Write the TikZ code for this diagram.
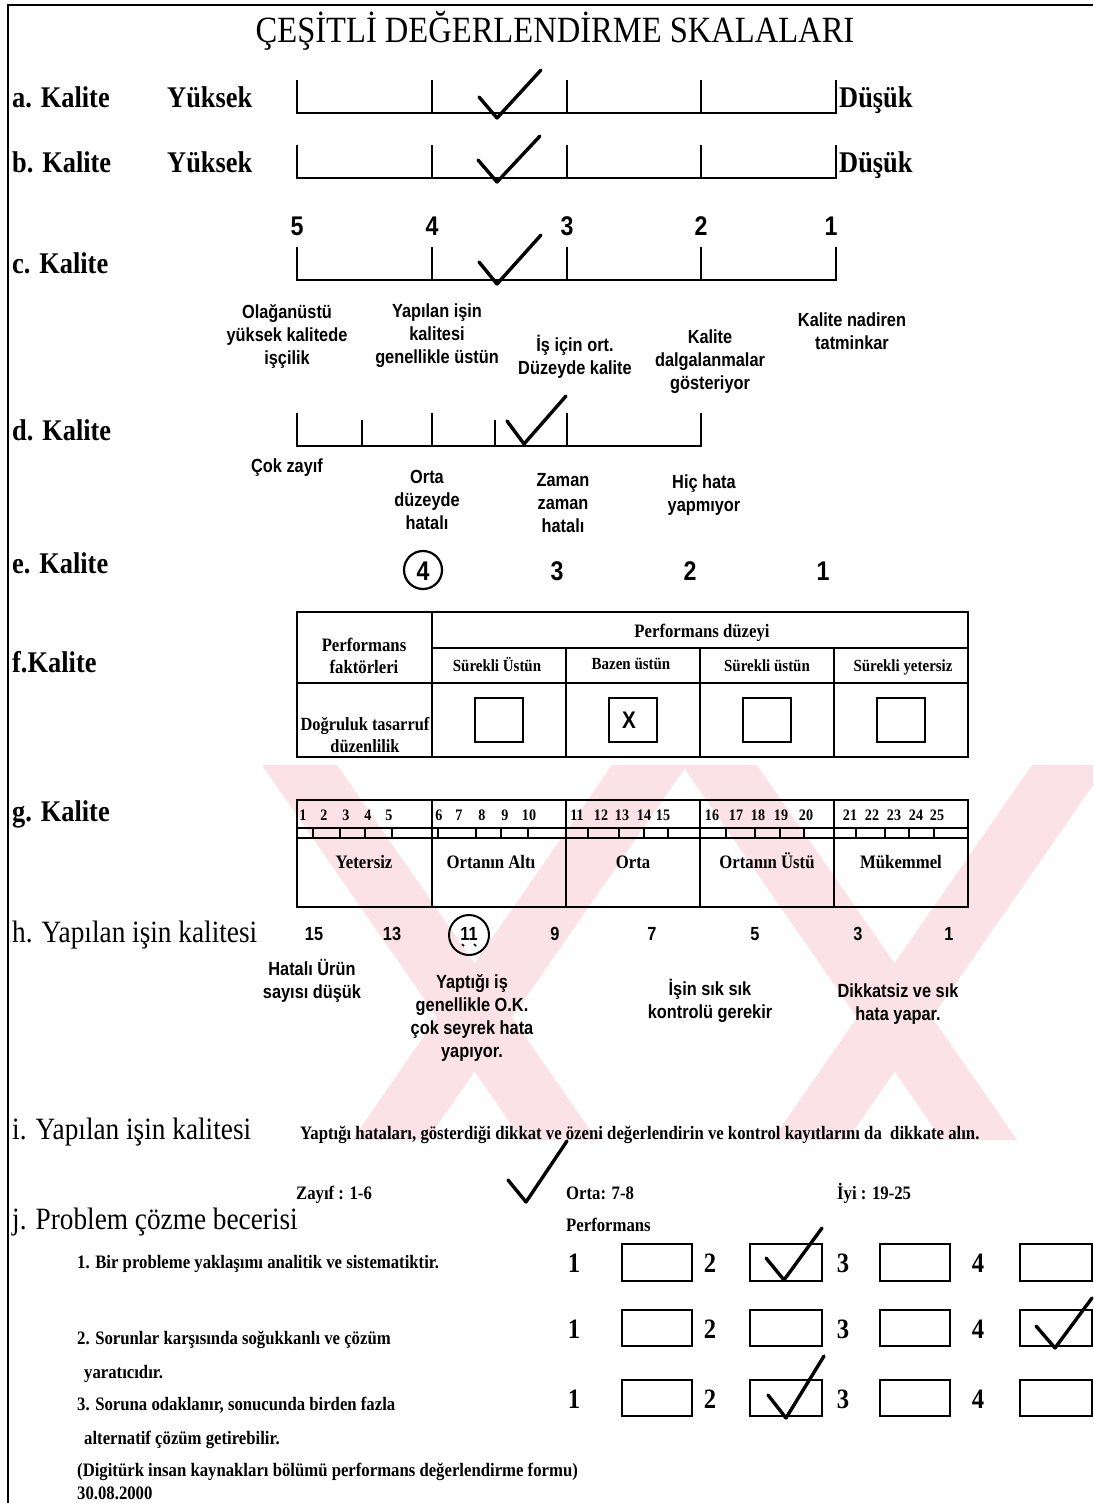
\documentclass[tikz,border=0pt]{standalone}
\usepackage{fontspec}
\setmainfont{Liberation Serif}[FakeStretch=0.88]
\newfontfamily\tsans{Liberation Sans}[FakeStretch=0.86]
\definecolor{wmpink}{RGB}{251,226,231}
\tikzset{
  lbl/.style={font=\bfseries\fontsize{30}{34}\selectfont, anchor=base west, inner sep=0pt},
  biglbl/.style={font=\fontsize{31}{34}\selectfont, anchor=base west, inner sep=0pt},
  ttl/.style={font=\fontsize{37}{42}\selectfont, anchor=base, inner sep=0pt},
  slab/.style={font=\tsans\bfseries\fontsize{19}{23}\selectfont, align=center, inner sep=0pt},
  bnum/.style={font=\tsans\bfseries\fontsize{27}{30}\selectfont, anchor=base, inner sep=0pt},
  hnum/.style={font=\tsans\bfseries\fontsize{19}{20}\selectfont, anchor=base, inner sep=0pt},
  tsm/.style={font=\bfseries\fontsize{17}{18}\selectfont, anchor=base, inner sep=0pt},
  tmid/.style={font=\bfseries\fontsize{19}{20}\selectfont, anchor=base, inner sep=0pt},
  glab/.style={font=\bfseries\fontsize{19}{20}\selectfont, anchor=base, inner sep=0pt},
  item/.style={font=\bfseries\fontsize{19}{22}\selectfont, anchor=base west, inner sep=0pt},
  jnum/.style={font=\bfseries\fontsize{28}{30}\selectfont, anchor=base, inner sep=0pt},
  chk/.style={line width=3.4pt, line cap=round, line join=round},
  scl/.style={line width=2.6pt},
  tk/.style={line width=2.2pt},
  tbl/.style={line width=2.4pt},
  box/.style={line width=2.2pt},
  frame/.style={line width=2.2pt},
  wm/.style={fill=wmpink},
}
\begin{document}
\begin{tikzpicture}[x=1pt,y=-1pt]
\useasboundingbox (0,0) rectangle (1093,1503);

% faint background mark
\begin{scope}
  \clip (0,765) rectangle (1093,1140);
  \fill[wm] (262,765) -- (337,765) -- (597,1140) -- (522,1140) -- cycle;
  \fill[wm] (612,765) -- (687,765) -- (427,1140) -- (352,1140) -- cycle;
  \fill[wm] (682,765) -- (757,765) -- (1017,1140) -- (942,1140) -- cycle;
  \fill[wm] (1032,765) -- (1107,765) -- (847,1140) -- (772,1140) -- cycle;
\end{scope}

% page frame
\draw[frame] (1093,5) -- (8,5) -- (8,1503);

% title
\node[ttl] (title) at (555,43) {ÇEŞİTLİ DEĞERLENDİRME SKALALARI};

% a and b
\node[lbl] (la) at (12,108) {a. Kalite};
\node[lbl] (ya) at (167,108) {Yüksek};
\node[lbl] (da) at (839,108) {Düşük};
\draw[scl] (297,80) -- (297,113) -- (836,113) -- (836,80);
\foreach \x in {432,567,701} \draw[tk] (\x,80) -- (\x,113);
\draw[chk] (479,97) -- (497,118) -- (541,70);

\node[lbl] (lb) at (12,173) {b. Kalite};
\node[lbl] (yb) at (167,173) {Yüksek};
\node[lbl] (db) at (839,173) {Düşük};
\draw[scl] (297,145) -- (297,178) -- (836,178) -- (836,145);
\foreach \x in {432,567,701} \draw[tk] (\x,145) -- (\x,178);
\draw[chk] (478,160) -- (497,182) -- (540,136);

% c
\foreach \n/\x in {5/297,4/432,3/567,2/701,1/831}
  \node[bnum] (cn\n) at (\x,236) {\n};
\node[lbl] (lc) at (12,274) {c. Kalite};
\draw[scl] (297,247) -- (297,280) -- (836,280) -- (836,247);
\foreach \x in {432,567,701} \draw[tk] (\x,247) -- (\x,280);
\draw[chk] (479,262) -- (497,284) -- (541,235);
\node[slab] (c5) at (287,336) {Olağanüstü\\yüksek kalitede\\işçilik};
\node[slab] (c4) at (437,336) {Yapılan işin\\kalitesi\\genellikle üstün};
\node[slab] (c3) at (575,357) {İş için ort.\\Düzeyde kalite};
\node[slab] (c2) at (710,362) {Kalite\\dalgalanmalar\\gösteriyor};
\node[slab] (c1) at (852,331) {Kalite nadiren\\tatminkar};

% d
\node[lbl] (ld) at (12,440) {d. Kalite};
\draw[scl] (297,413) -- (297,446) -- (701,446) -- (701,413);
\foreach \x in {432,567} \draw[tk] (\x,413) -- (\x,446);
\foreach \x in {362,495} \draw[tk] (\x,420) -- (\x,446);
\draw[chk] (507,421) -- (524,444) -- (566,396);
\node[slab] (d1) at (287,468) {Çok zayıf};
\node[slab] (d2) at (427,500) {Orta\\düzeyde\\hatalı};
\node[slab] (d3) at (563,503) {Zaman\\zaman\\hatalı};
\node[slab] (d4) at (704,495) {Hiç hata\\yapmıyor};

% e
\node[lbl] (le) at (12,573) {e. Kalite};
\node[bnum] (e4) at (423,580) {4};
\draw[line width=2.2pt] (423,570) circle (19);
\node[bnum] (e3) at (557,580) {3};
\node[bnum] (e2) at (690,580) {2};
\node[bnum] (e1) at (823,580) {1};

% f
\node[lbl] (lf) at (12,672) {f.Kalite};
\draw[tbl] (297,612) rectangle (968,757);
\draw[tbl] (432,612) -- (432,757);
\foreach \x in {566,700,834} \draw[tbl] (\x,648) -- (\x,757);
\draw[tbl] (432,648) -- (968,648);
\draw[tbl] (297,683) -- (968,683);
\node[tmid] (fh) at (702,637) {Performans düzeyi};
\node[tmid] (ff1) at (364,651) {Performans};
\node[tmid] (ff2) at (364,673) {faktörleri};
\node[tsm] (fs1) at (497,671) {Sürekli Üstün};
\node[tsm] (fs2) at (631,669) {Bazen üstün};
\node[tsm] (fs3) at (767,671) {Sürekli üstün};
\node[tsm] (fs4) at (903,671) {Sürekli yetersiz};
\node[tmid, font=\bfseries\fontsize{18.6}{20}\selectfont] (fd1) at (365,730) {Doğruluk tasarruf};
\node[tmid, font=\bfseries\fontsize{18.6}{20}\selectfont] (fd2) at (365,752) {düzenlilik};
\foreach \c in {499,633,767,901} \draw[box] (\c-24,698) rectangle (\c+24,742);
\node[font=\tsans\bfseries\fontsize{24}{26}\selectfont, inner sep=0pt] (fx) at (629,720) {X};

% g
\node[lbl] (lg) at (12,821) {g. Kalite};
\draw[tbl] (297,800) rectangle (968,907);
\foreach \x in {432,566,700,834} \draw[tbl] (\x,800) -- (\x,907);
\draw[line width=1.8pt] (297,828) -- (968,828);
\draw[line width=1.8pt] (297,838) -- (968,838);
\foreach \x in {313,340,365,392,438,476,501,528,588,619,644,668,726,755,780,804,856,885,909,934}
  \draw[line width=1.6pt] (\x,828) -- (\x,838);
\foreach \n/\x in {1/303,2/324,3/346,4/368,5/389,6/439,7/459,8/482,9/505,10/529,
                   11/577,12/601,13/622,14/644,15/663,16/712,17/736,18/758,19/781,20/806,
                   21/850,22/872,23/894,24/916,25/937}
  \node[tsm, font=\bfseries\fontsize{16}{18}\selectfont] (gn\n) at (\x,820) {\n};
\node[glab] (gl1) at (364,868) {Yetersiz};
\node[glab] (gl2) at (491,868) {Ortanın Altı};
\node[glab] (gl3) at (633,868) {Orta};
\node[glab] (gl4) at (767,868) {Ortanın Üstü};
\node[glab] (gl5) at (901,868) {Mükemmel};

% h
\node[biglbl] (lh) at (12,942) {h. Yapılan işin kalitesi};
\foreach \n/\x in {15/314,13/392,11/469,9/555,7/652,5/755,3/858,1/949}
  \node[hnum] (hn\n) at (\x,940) {\n};
\draw[line width=2pt] (469,935) circle (20);
\draw[line width=1.6pt] (462,944) -- (464,946);
\draw[line width=1.6pt] (474,944) -- (476,946);
\node[slab] (h1) at (312,981) {Hatalı Ürün\\sayısı düşük};
\node[slab] (h2) at (472,1018) {Yaptığı iş\\genellikle O.K.\\çok seyrek hata\\yapıyor.};
\node[slab] (h3) at (710,1001) {İşin sık sık\\kontrolü gerekir};
\node[slab] (h4) at (898,1004) {Dikkatsiz ve sık\\hata yapar.};

% i
\node[biglbl] (li) at (12,1139) {i. Yapılan işin kalitesi};
\node[item] (it) at (300,1139) {Yaptığı hataları, gösterdiği dikkat ve özeni değerlendirin ve kontrol kayıtlarını da\ \ dikkate alın.};
\node[item] (iz) at (296,1199) {Zayıf : 1-6};
\node[item] (io) at (566,1199) {Orta: 7-8};
\node[item] (ii) at (837,1199) {İyi : 19-25};
\draw[chk] (508,1180) -- (526,1202) -- (567,1141);

% j
\node[biglbl] (lj) at (12,1229) {j. Problem çözme becerisi};
\node[item] (jp) at (566,1231) {Performans};
\node[item] (j1) at (77,1268) {1. Bir probleme yaklaşımı analitik ve sistematiktir.};
\node[item] (j2a) at (77,1344) {2. Sorunlar karşısında soğukkanlı ve çözüm};
\node[item] (j2b) at (84,1378) {yaratıcıdır.};
\node[item] (j3a) at (77,1410) {3. Soruna odaklanır, sonucunda birden fazla};
\node[item] (j3b) at (84,1444) {alternatif çözüm getirebilir.};
\node[item] (jd) at (77,1476) {(Digitürk insan kaynakları bölümü performans değerlendirme formu)};
\node[item] (jt) at (77,1499) {30.08.2000};
\foreach \r/\t/\b/\bl in {1/1244/1281/1272, 2/1310/1346/1338, 3/1380/1416/1408}{
  \foreach \n/\x in {1/574,2/710,3/843,4/978}
    \node[jnum] (jn\r\n) at (\x,\bl) {\n};
  \foreach \l/\rr in {622/692,750/822,880/950,1020/1092}
    \draw[box] (\l,\t) rectangle (\rr,\b);
}
\draw[chk] (766,1258) -- (784,1280) -- (822,1228);
\draw[chk] (1036,1326) -- (1055,1348) -- (1092,1298);
\draw[chk] (768,1395) -- (786,1418) -- (824,1356);
\end{tikzpicture}
\end{document}
